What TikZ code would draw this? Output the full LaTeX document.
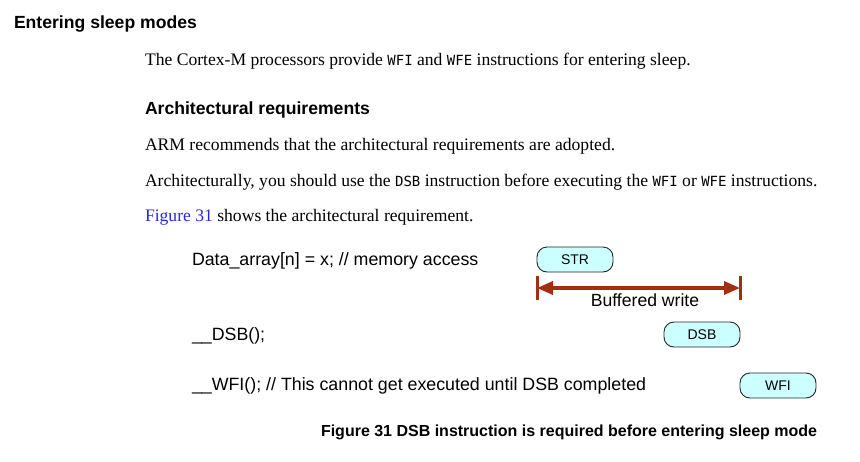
\documentclass[tikz,border=0pt]{standalone}
\usepackage{fontspec}
\setmainfont{Liberation Serif}
\setsansfont{Liberation Sans}
\setmonofont{DejaVu Sans Mono}
\usetikzlibrary{arrows.meta}
\definecolor{boxfill}{RGB}{204,255,255}
\definecolor{arrowred}{RGB}{160,48,16}
\definecolor{linkblue}{RGB}{40,40,220}
\tikzset{
  txt/.style={anchor=base west,inner sep=0pt,outer sep=0pt},
  head/.style={txt,font=\fontsize{17.6}{20}\selectfont\sffamily\bfseries},
  body/.style={txt,font=\fontsize{17.6}{20}\selectfont\rmfamily},
  code/.style={txt,font=\fontsize{17.8}{20}\selectfont\sffamily},
  instr/.style={draw=black!85,line width=0.9pt,fill=boxfill,rounded corners=10pt,
    minimum width=76pt,minimum height=25pt,inner sep=0pt,
    font=\fontsize{14}{16}\selectfont\sffamily},
}
\newcommand{\mytt}[1]{{\fontsize{14}{16}\selectfont\ttfamily #1}}
\begin{document}
\begin{tikzpicture}[x=1pt,y=-1pt]
\useasboundingbox (0,0) rectangle (860,461);
\fill[white] (0,0) rectangle (860,461);
\node[head] (h1) at (14,28) {Entering sleep modes};
\node[body] (p1) at (145,65) {The Cortex-M processors provide \mytt{WFI} and \mytt{WFE} instructions for entering sleep.};
\node[head] (h2) at (145,114) {Architectural requirements};
\node[body] (p2) at (145,150) {ARM recommends that the architectural requirements are adopted.};
\node[body] (p3) at (145,186) {Architecturally, you should use the \mytt{DSB} instruction before executing the \mytt{WFI} or \mytt{WFE} instructions.};
\node[body] (p4) at (145,221) {\textcolor{linkblue}{Figure 31} shows the architectural requirement.};

\node[code] (c1) at (192,265) {Data\_array[n] = x; // memory access};
\node[code] (c2) at (192,340) {\_\_DSB();};
\node[code] (c3) at (192,390) {\_\_WFI(); // This cannot get executed until DSB completed};

\node[instr] (str) at (575,259.5) {STR};
\node[instr] (dsb) at (702,334.5) {DSB};
\node[instr] (wfi) at (778,385.5) {WFI};

\coordinate (bl) at (537,288);
\coordinate (br) at (740,288);
\draw[arrowred,line width=3pt] (537,276) -- (537,300);
\draw[arrowred,line width=3pt] (740,276) -- (740,300);
\draw[arrowred,line width=3.5pt,{Triangle[length=16pt,width=13pt]}-{Triangle[length=16pt,width=13pt]}] (bl) -- (br);
\node[anchor=base,inner sep=0pt,font=\fontsize{17.6}{20}\selectfont\sffamily] (bw) at (645,306) {Buffered write};

\node[txt,font=\fontsize{16}{18}\selectfont\sffamily\bfseries] (cap) at (321,436) {Figure 31 DSB instruction is required before entering sleep mode};
\end{tikzpicture}
\end{document}
